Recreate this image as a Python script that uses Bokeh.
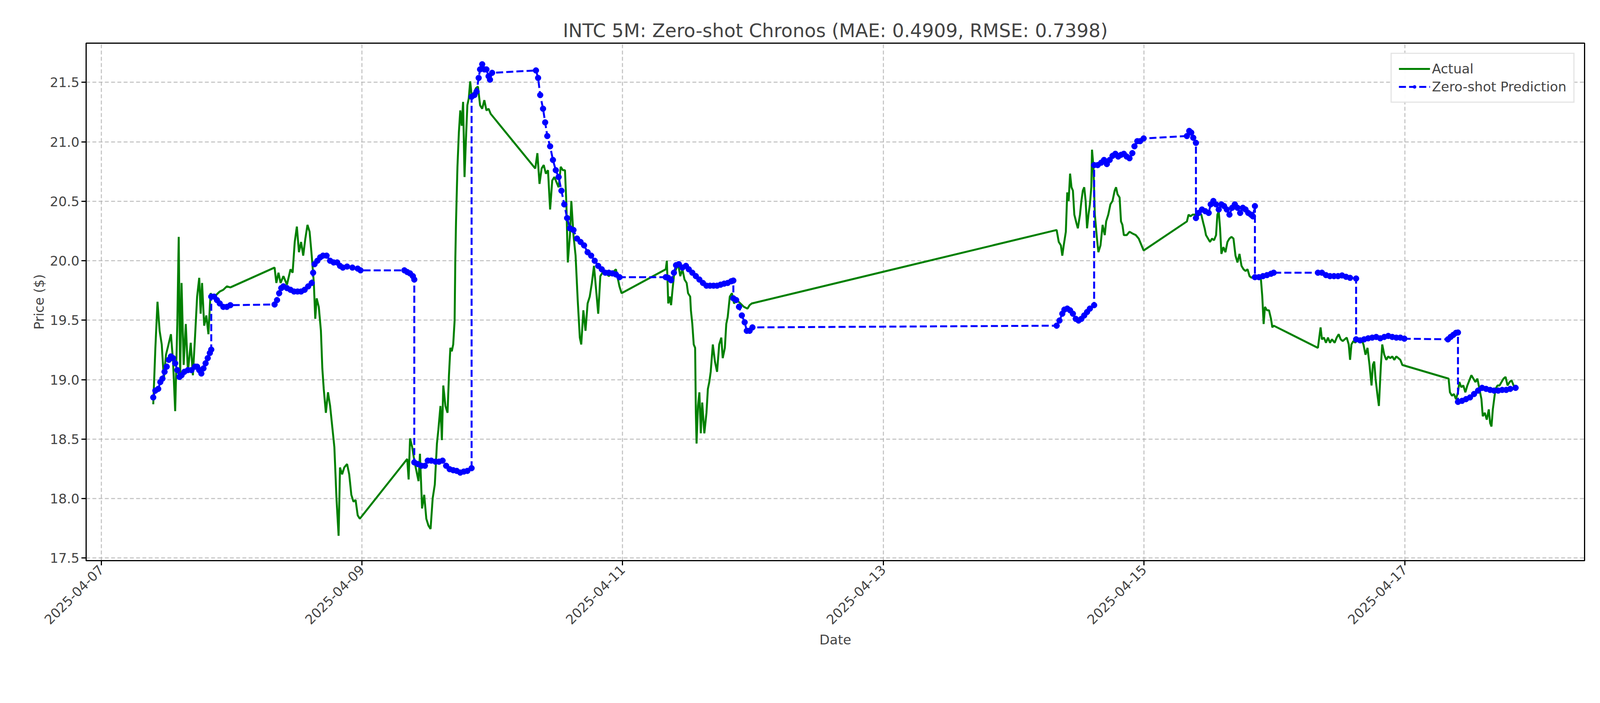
import datetime as dt
from bokeh.plotting import figure
from bokeh.models import FixedTicker, DatetimeTickFormatter, NumeralTickFormatter, Legend, LegendItem, Range1d
from bokeh.embed import file_html
from bokeh.resources import INLINE

# values, three panels of readings:
# (day index, price reading) pairs, calibrated below to dates and dollars
start = dt.datetime(2025, 4, 7)

# panel 1: days from 2025-04-07 = (u-65)/368.5 ; price = 21.5-(v-133)/348
actual_p1 = [(212,1075),(218,910),(224,775),(230,860),(236,900),(242,1000),(248,930),(254,905),(262,870),(268,950),(274,1095),(280,840),(284,585),(288,1000),(292,720),(298,960),(304,840),(310,980),(318,895),(324,990),(330,880),(336,760),(342,705),(346,810),(350,720),(356,845),(362,815),(368,870),(374,750),(380,760),(390,755),(400,745),(410,740),(420,730),(430,733),
    (555,675),(560,720),(566,690),(572,720),(580,700),(590,725),(600,680),(606,690),(612,600),(618,555),(624,630),(630,600),(636,640),(642,590),(648,550),(654,570),(660,640),(666,720),(670,825),(674,765),(680,790),(686,860),(690,970),(694,1030),(700,1100),(706,1040),(712,1080),(718,1140),(724,1200),(730,1350),(736,1460),(740,1260),(746,1280),(752,1260),(760,1250),(766,1280),(772,1340),(778,1360),(784,1355),(790,1400),(796,1410),
    (930,1235),(934,1295),(938,1175),(944,1200),(950,1240),(956,1270),(962,1300),(966,1220),(972,1380),(978,1340),(984,1410),(990,1430),(996,1440),(1002,1350),(1008,1310),(1014,1190),(1018,1150),(1024,1080),(1028,1180),(1032,1020),(1038,1080),(1044,1100),(1048,990),(1052,910),(1056,920),(1060,900),(1064,830),(1066,650),(1068,540),(1072,380),(1076,280),(1080,215),(1084,260),(1088,190),(1092,410),(1096,300),(1100,200),(1104,180),(1108,130),(1112,170),(1118,165),(1124,150),(1130,145),(1136,200),(1142,210),(1148,185),(1154,215),(1160,210),(1166,225),
    (1292,385),(1298,340),(1304,430),(1310,385),(1316,375),(1322,400),(1328,390),(1334,505),(1340,420),(1346,410),(1352,425),(1358,440),(1364,380),(1370,390),(1376,390),(1380,490),(1384,660),(1390,580),(1394,480),(1400,580),(1406,640),(1412,770),(1418,880),(1422,900),(1428,800),(1434,860),(1440,780),(1446,760),(1452,720),(1458,670),(1464,740),(1470,810),(1476,700),(1482,690),(1490,690),(1500,700),(1510,690),(1520,680),(1530,730),(1536,750)]
pred_p1 = [(212,1055),(218,1035),(226,1030),(232,1010),(238,1000),(244,980),(250,965),(256,945),(262,935),(268,940),(274,955),(280,975),(286,995),(292,990),(300,980),(310,975),(320,975),(330,965),(336,965),(342,975),(348,985),(354,970),(360,955),(366,940),(372,925),(376,915),
    (376,760),(384,760),(392,770),(400,780),(410,790),(420,790),(430,785),
    (555,783),(562,770),(568,750),(574,735),(580,730),(590,735),(600,740),(610,745),(620,745),(630,745),(640,740),(650,730),(660,720),(664,690),(668,665),(676,655),(684,645),(692,640),(702,640),(712,655),(722,660),(732,660),(740,670),(748,675),(760,672),(775,675),(790,678),(798,683),
    (922,683),(930,688),(938,692),(946,700),(950,710),
    (950,1245),(960,1250),(970,1255),(980,1255),(988,1240),(998,1240),(1010,1243),(1020,1243),(1030,1240),(1040,1255),(1050,1265),(1060,1268),(1070,1270),(1080,1275),(1090,1272),(1100,1270),(1112,1262),
    (1112,175),(1120,170),(1126,160),(1132,120),(1136,95),(1142,80),(1148,95),(1154,95),(1160,115),(1164,125),(1170,105),
    (1294,98),(1300,120),(1306,170),(1314,210),(1320,250),(1326,290),(1334,320),(1342,360),(1350,390),(1358,410),(1366,450),(1374,490),(1382,530),(1390,560),(1400,565),(1410,590),(1420,600),(1430,610),(1440,630),(1450,640),(1460,655),(1470,670),(1480,680),(1490,690),(1500,690),(1510,692),(1520,695),(1530,703)]

# panel 2: days from 2025-04-11 = (u-53)/368.5
actual_p2 = [(175,680),(178,655),(182,780),(186,760),(190,785),(194,740),(198,700),(204,680),(210,665),(216,700),(222,680),(228,710),(234,720),(238,750),(244,760),(246,800),(250,840),(254,900),(258,910),(260,1100),(262,1190),(266,1080),(270,1040),(274,1160),(278,1070),(284,1160),(290,1100),(294,1030),(298,1010),(302,980),(308,900),(314,950),(320,980),(326,900),(332,880),(336,940),(342,910),(346,840),(350,820),(356,760),(362,750),(368,780),(376,770),(386,780),(396,790),(406,795),(412,785),(418,780),
    (1280,565),(1286,600),(1292,610),(1296,640),(1300,610),(1306,570),(1310,455),(1314,480),(1318,400),(1322,440),(1326,450),(1330,520),(1336,545),(1340,560),(1346,520),(1350,480),(1354,450),(1358,440),(1362,480),(1366,560),(1370,520),(1374,490),(1378,440),(1380,330),(1384,380),(1388,520),(1394,590),(1398,630),(1404,610),(1410,550),(1416,580),(1420,540),(1426,520),(1432,490),(1438,480),(1444,450),(1448,440),(1452,460),(1458,470),(1462,540),(1466,550),(1470,580),(1478,580),(1486,570),(1494,575),(1504,580),(1512,590),(1520,610),(1526,625)]
pred_p2 = [(175,703),(182,705),(190,712),(198,690),(204,668),(212,665),(222,675),(232,670),(240,680),(250,690),(260,700),(270,710),(280,720),(290,728),(300,728),(310,728),(320,728),(330,725),(340,722),(350,720),(360,715),(366,713),
    (366,765),(374,770),(382,790),(390,815),(398,835),(404,860),(412,860),(420,850),
    (1280,845),(1288,830),(1296,810),(1302,798),(1310,795),(1318,800),(1326,810),(1334,825),(1342,830),(1350,825),(1358,815),(1366,805),(1374,795),(1386,785),
    (1386,375),(1396,375),(1406,368),(1414,360),(1422,372),(1430,360),(1438,348),(1446,342),(1454,350),(1462,345),(1470,342),(1478,350),(1486,355),(1494,340),(1500,320),(1508,305),(1516,305),(1526,297)]

# panel 3: days from 2025-04-15 = (u-217)/389
actual_p3 = [(345,540),(350,520),(356,525),(362,520),(370,520),(376,530),(382,515),(388,520),(394,545),(398,560),(402,580),(408,590),(414,600),(420,590),(426,595),(432,580),(436,520),(440,510),(444,560),(448,635),(454,615),(460,630),(466,600),(472,590),(478,585),(484,590),(490,640),(496,660),(502,635),(508,670),(514,680),(520,685),(526,680),(532,700),(538,705),(544,700),(550,700),(560,700),(566,710),(570,760),(574,840),(578,790),(584,800),(590,800),(596,825),(600,850),(604,845),
    (736,910),(740,880),(744,850),(748,885),(754,880),(760,895),(766,880),(772,895),(778,885),(786,895),(792,880),(798,870),(804,885),(810,890),(816,885),(822,880),(828,900),(832,945),(836,900),(842,890),(848,895),(854,880),(860,890),(866,885),(872,900),(878,930),(884,910),(890,960),(896,1020),(900,960),(904,950),(908,1000),(914,1050),(918,1080),(924,960),(928,900),(934,930),(940,945),(946,935),(952,940),(958,935),(964,945),(970,935),(976,940),(982,945),(988,960),
    (1126,1000),(1130,1040),(1136,1050),(1142,1045),(1148,1060),(1154,1040),(1158,1010),(1164,1025),(1170,1020),(1176,1040),(1182,1020),(1188,1005),(1194,990),(1200,1000),(1206,1010),(1212,1000),(1218,1030),(1224,1060),(1228,1110),(1234,1100),(1240,1120),(1246,1090),(1250,1130),(1254,1140),(1258,1090),(1262,1060),(1266,1030),(1272,1020),(1278,1020),(1284,1010),(1290,1000),(1296,995),(1302,1020),(1308,1010),(1314,1005),(1320,1020),(1326,1025)]
pred_p3 = [(345,290),(352,275),(358,280),(364,295),(372,310),
    (372,530),(380,515),(390,505),(400,510),(410,515),(416,490),(424,480),(432,490),(440,505),(448,490),(456,495),(464,505),(472,520),(480,500),(488,490),(496,500),(504,515),(512,500),(520,505),(528,515),(536,520),(542,525),(548,495),
    (548,703),(560,703),(572,700),(584,697),(596,693),(604,690),
    (736,690),(748,690),(760,697),(772,700),(784,700),(796,700),(808,698),(820,702),(832,705),(850,707),
    (850,885),(862,888),(874,885),(886,882),(898,880),(910,878),(922,882),(934,878),(946,875),(958,878),(970,880),(982,880),(994,883),
    (1124,885),(1132,878),(1140,872),(1148,866),(1154,865),
    (1154,1068),(1166,1065),(1178,1060),(1190,1055),(1202,1045),(1214,1035),(1226,1027),(1238,1030),(1250,1033),(1262,1035),(1274,1035),(1286,1033),(1298,1033),(1310,1030),(1326,1027)]

title = "INTC 5M: Zero-shot Chronos (MAE: 0.4909, RMSE: 0.7398)"
tick_dates = ["2025-04-07", "2025-04-09", "2025-04-11", "2025-04-13", "2025-04-15", "2025-04-17"]
price_ticks = [17.5, 18.0, 18.5, 19.0, 19.5, 20.0, 20.5, 21.0, 21.5]


def calib(pts, base_day, u0, per_day):
    t, p = [], []
    for u, v in pts:
        t.append(start + dt.timedelta(days=base_day + (u - u0) / per_day))
        p.append(21.5 - (v - 133) / 348)
    return t, p


def join(*parts):
    t, p = [], []
    for a, b in parts:
        t += a
        p += b
    return t, p


actual_time, actual_price = join(calib(actual_p1, 0, 65, 368.5), calib(actual_p2, 4, 53, 368.5), calib(actual_p3, 8, 217, 389))
pred_time, pred_price = join(calib(pred_p1, 0, 65, 368.5), calib(pred_p2, 4, 53, 368.5), calib(pred_p3, 8, 217, 389))

FONT = "DejaVu Sans"
x0 = start - dt.timedelta(days=0.116)
x1 = start + dt.timedelta(days=11.38)
p = figure(width=4100, height=1760, sizing_mode="stretch_width", x_axis_type="datetime",
           output_backend="svg", toolbar_location=None,
           x_range=Range1d(x0, x1), y_range=Range1d(17.478, 21.83),
           min_border_left=220, min_border_right=40, min_border_top=110, min_border_bottom=325)
p.title.text = title
p.title.align = "center"
p.title.text_font = FONT
p.title.text_font_size = "48px"
p.title.text_font_style = "normal"

l1 = p.line(actual_time, actual_price, line_color="green", line_width=5)
l2 = p.line(pred_time, pred_price, line_color="blue", line_width=5, line_dash="18 8")
c2 = p.scatter(pred_time, pred_price, size=15, fill_color="blue", line_color="blue")

p.xaxis.ticker = FixedTicker(ticks=[dt.datetime.fromisoformat(d).timestamp() * 1000 for d in tick_dates])
p.xaxis.formatter = DatetimeTickFormatter(days="%Y-%m-%d", months="%Y-%m-%d", hours="%Y-%m-%d")
p.xaxis.major_label_orientation = 0.785
p.yaxis.ticker = FixedTicker(ticks=price_ticks)
p.yaxis.formatter = NumeralTickFormatter(format="0.0")
p.xaxis.axis_label = "Date"
p.yaxis.axis_label = "Price ($)"
for ax in (p.xaxis, p.yaxis):
    ax.axis_label_text_font = FONT
    ax.axis_label_text_font_size = "34px"
    ax.axis_label_text_font_style = "normal"
    ax.major_label_text_font = FONT
    ax.major_label_text_font_size = "34px"
    ax.major_tick_line_width = 3
    ax.major_tick_out = 12
    ax.major_tick_in = 0
    ax.minor_tick_line_color = None
    ax.axis_line_width = 3

p.outline_line_color = "black"
p.outline_line_width = 3
for g in (p.xgrid, p.ygrid):
    g.grid_line_color = "#b0b0b0"
    g.grid_line_alpha = 0.7
    g.grid_line_width = 3
    g.grid_line_dash = "10 6"

legend = Legend(items=[LegendItem(label="Actual", renderers=[l1]),
                       LegendItem(label="Zero-shot Prediction", renderers=[l2, c2])],
                location="top_right", label_text_font=FONT, label_text_font_size="34px",
                border_line_color="#cccccc", border_line_width=3, glyph_width=80, spacing=6,
                padding=18, margin=25)
p.add_layout(legend)

open("out.html", "w").write(file_html(p, INLINE))
